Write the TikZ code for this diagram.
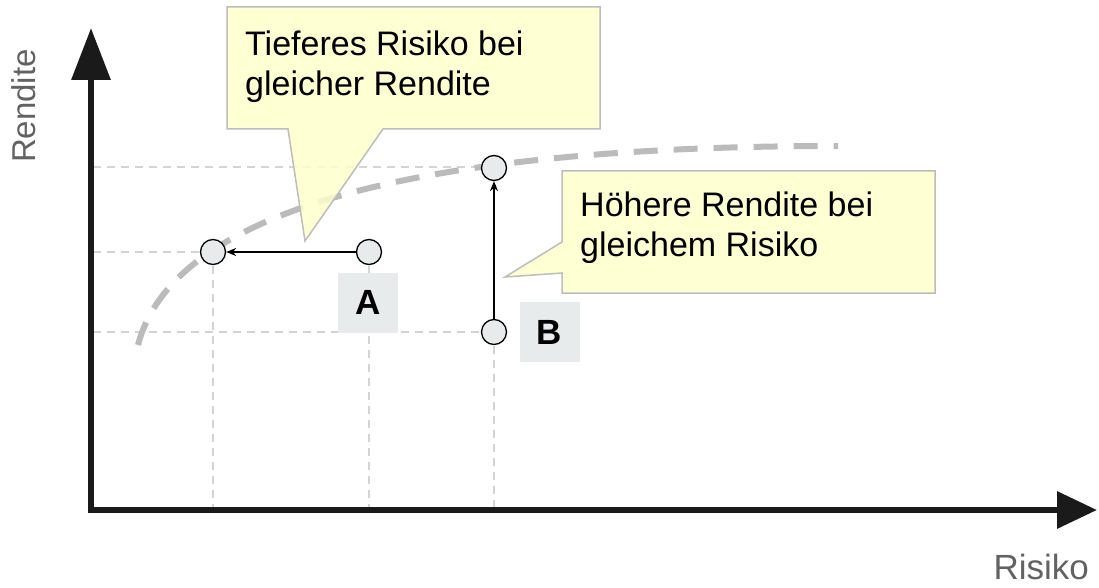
\documentclass[tikz,border=0pt]{standalone}
\usepackage{fontspec}
\setmainfont{Liberation Sans}
\usetikzlibrary{arrows.meta}
\definecolor{axis}{HTML}{1A1A1A}
\definecolor{gridc}{HTML}{D4D4D4}
\definecolor{curvec}{HTML}{BBBBBB}
\definecolor{callfill}{HTML}{FFFFCC}
\definecolor{callline}{HTML}{BDBDBD}
\definecolor{ptfill}{HTML}{E8EBEC}
\definecolor{axlabel}{HTML}{626262}
\tikzset{
  gridline/.style={gridc, line width=1.4pt, dash pattern=on 8pt off 6pt},
  pt/.style={circle, draw=black, fill=ptfill, line width=1.3pt, minimum size=25pt, inner sep=0pt},
  tag/.style={fill=ptfill, minimum width=60pt, minimum height=60pt, inner sep=0pt, font=\fontsize{35}{40}\selectfont\bfseries},
  move/.style={-{Stealth[length=10pt,width=8pt]}, line width=1.3pt, black},
  callout/.style={fill=callfill, fill opacity=0.85, draw=callline, line width=1.5pt, line join=miter},
  calltext/.style={align=left, anchor=north west, inner sep=0pt, font=\fontsize{34}{40}\selectfont, text=black},
  axislabel/.style={text=axlabel, inner sep=0pt},
}
\begin{document}
\begin{tikzpicture}[x=1pt, y=-1pt]
\useasboundingbox (0,0) rectangle (1099,588);
% points
\coordinate (orig) at (91,510);
\coordinate (ytip) at (91,28);
\coordinate (xtip) at (1097,510);
% grid lines
\draw[gridline] (93,167) -- (494,167);
\draw[gridline] (93,252) -- (213,252);
\draw[gridline] (93,332) -- (494,332);
\draw[gridline] (213,252) -- (213,508);
\draw[gridline] (369,252) -- (369,508);
\draw[gridline] (494,332) -- (494,508);
% efficient frontier
\draw[curvec, line width=6pt, dash pattern=on 24pt off 16pt] (138,345) .. controls (172,215) and (400,146) .. (838,146);
% callouts
\draw[callout] (227,7) -- (600,7) -- (600,129) -- (383,129) -- (305,241) -- (288,129) -- (227,129) -- cycle;
\node[calltext] (t1) at (245,31) {Tieferes Risiko bei\\gleicher Rendite};
\draw[callout] (562,171) -- (935,171) -- (935,293) -- (562,293) -- (562,273) -- (505,277) -- (562,242) -- cycle;
\node[calltext] (t2) at (580,192) {Höhere Rendite bei\\gleichem Risiko};
% labels
\node[tag] (la) at (368,302.5) {A};
\node[tag] (lb) at (549.5,332) {B};
% points
\node[pt] (a1) at (369,252) {};
\node[pt] (a2) at (213,252) {};
\node[pt] (b1) at (494,332) {};
\node[pt] (b2) at (494,168) {};
\draw[move] (a1) -- (a2);
\draw[move] (b1) -- (b2);
% axes
\draw[axis, line width=6.5pt, -{Triangle[length=52pt,width=38pt]}] (91,513) -- (ytip);
\draw[axis, line width=6.5pt, -{Triangle[length=40pt,width=36pt]}] (88,510) -- (xtip);
\node[axislabel, rotate=90, anchor=base, font=\fontsize{33}{36}\selectfont] (ry) at (35,106) {Rendite};
\node[axislabel, anchor=base east, font=\fontsize{35}{40}\selectfont] (rx) at (1089,579) {Risiko};
\end{tikzpicture}
\end{document}
